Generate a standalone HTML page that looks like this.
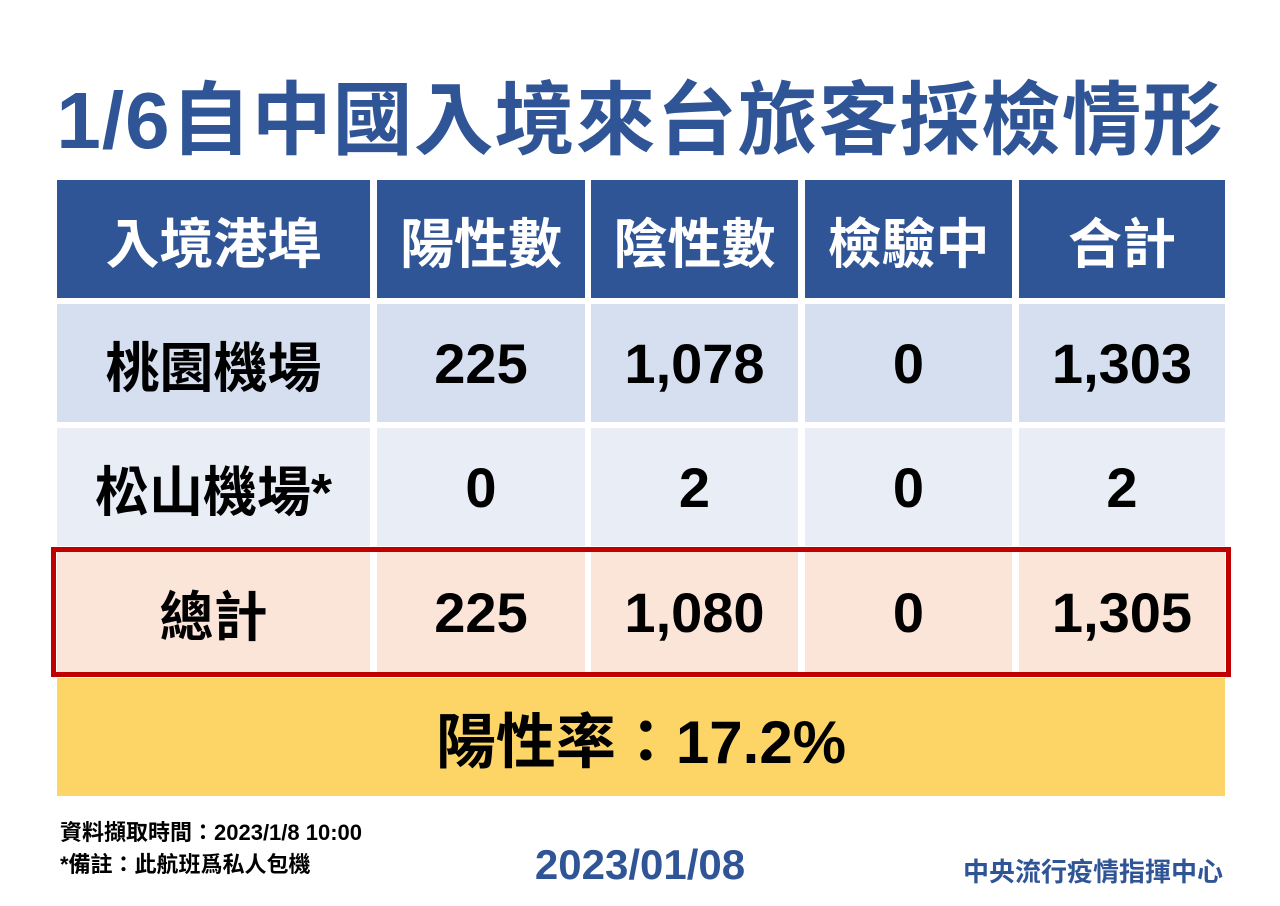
<!DOCTYPE html>
<html><head><meta charset="utf-8"><style>
*{margin:0;padding:0;box-sizing:border-box}
body{width:1280px;height:906px;background:#fff;position:relative;overflow:hidden;font-family:"Liberation Sans","Noto Sans CJK TC",sans-serif}
.a{position:absolute;display:flex;align-items:center;justify-content:center;font-weight:bold}
.h{background:#2f5597;color:#fff;font-size:54px}
.r1{background:#d6dff0;color:#000;font-size:56px}
.r2{background:#e9edf6;color:#000;font-size:56px}
.r3{background:#fbe4d8;color:#000;font-size:56px}
</style></head><body>
<div class="a" style="left:0;top:64px;width:1280px;height:100px;color:#2f5597;font-size:80px;letter-spacing:1px">1/6自中國入境來台旅客採檢情形</div>

<div class="a h" style="left:57px;top:180px;width:313px;height:118px">入境港埠</div>
<div class="a h" style="left:377px;top:180px;width:208px;height:118px">陽性數</div>
<div class="a h" style="left:591px;top:180px;width:207px;height:118px">陰性數</div>
<div class="a h" style="left:805px;top:180px;width:207px;height:118px">檢驗中</div>
<div class="a h" style="left:1019px;top:180px;width:206px;height:118px">合計</div>

<div class="a r1" style="left:57px;top:304px;width:313px;height:118px;font-size:54px">桃園機場</div>
<div class="a r1" style="left:377px;top:304px;width:208px;height:118px">225</div>
<div class="a r1" style="left:591px;top:304px;width:207px;height:118px">1,078</div>
<div class="a r1" style="left:805px;top:304px;width:207px;height:118px">0</div>
<div class="a r1" style="left:1019px;top:304px;width:206px;height:118px">1,303</div>

<div class="a r2" style="left:57px;top:428px;width:313px;height:118px;font-size:54px">松山機場*</div>
<div class="a r2" style="left:377px;top:428px;width:208px;height:118px">0</div>
<div class="a r2" style="left:591px;top:428px;width:207px;height:118px">2</div>
<div class="a r2" style="left:805px;top:428px;width:207px;height:118px">0</div>
<div class="a r2" style="left:1019px;top:428px;width:206px;height:118px">2</div>

<div class="a r3" style="left:57px;top:552px;width:313px;height:120px;font-size:54px">總計</div>
<div class="a r3" style="left:377px;top:552px;width:208px;height:120px">225</div>
<div class="a r3" style="left:591px;top:552px;width:207px;height:120px">1,080</div>
<div class="a r3" style="left:805px;top:552px;width:207px;height:120px">0</div>
<div class="a r3" style="left:1019px;top:552px;width:206px;height:120px">1,305</div>
<div style="position:absolute;left:51px;top:547px;width:1180px;height:130px;border:5px solid #c00000"></div>

<div class="a" style="left:57px;top:678px;width:1168px;height:118px;background:#fdd567;color:#000;font-size:60px">陽性率：17.2%</div>

<div style="position:absolute;left:60px;top:815px;font-size:22px;font-weight:bold;color:#000">資料擷取時間：2023/1/8 10:00</div>
<div style="position:absolute;left:60px;top:847px;font-size:22px;font-weight:bold;color:#000">*備註：此航班爲私人包機</div>
<div class="a" style="left:490px;top:840px;width:300px;height:50px;color:#2f5597;font-size:42px">2023/01/08</div>
<div style="position:absolute;left:963px;top:852px;font-size:26px;font-weight:bold;color:#2f5597">中央流行疫情指揮中心</div>
</body></html>
